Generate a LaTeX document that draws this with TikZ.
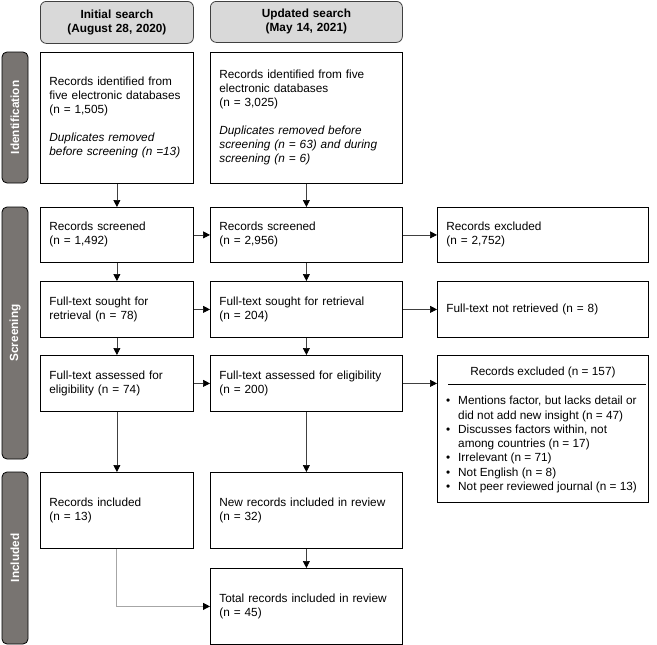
\documentclass[tikz,border=0pt]{standalone}
\usepackage{fontspec}
\setmainfont{Liberation Sans}
\usetikzlibrary{arrows.meta, calc, positioning}
\definecolor{headgray}{HTML}{D9D9D9}
\definecolor{phasegray}{HTML}{787471}
\definecolor{linegray}{HTML}{404040}
\definecolor{elbowgray}{HTML}{A6A6A6}

\begin{document}
\begin{tikzpicture}[x=1pt, y=-1pt,
        box/.style={draw=black, line width=0.8pt, anchor=north west, align=left,
            inner xsep=9pt, inner ysep=0pt, font=\fontsize{11.8}{14}\selectfont},
        colone/.style={text width=135pt},
        coltwo/.style={text width=174pt},
        colthree/.style={text width=193pt},
        header/.style={draw=linegray, line width=0.8pt, fill=headgray, rounded corners=6pt,
            anchor=north west, align=center, inner xsep=0pt,
            font=\fontsize{11.8}{14}\selectfont\bfseries},
        phase/.style={draw=black, line width=0.8pt, fill=phasegray, rounded corners=5pt,
            rotate=90, minimum height=26pt, inner sep=0pt, text=white,
            font=\fontsize{11.8}{14}\selectfont\bfseries},
        arr/.style={draw=linegray, line width=0.7pt, -{Triangle[length=7pt, width=7pt, color=black]}},
        elbow/.style={draw=elbowgray, line width=1pt, -{Triangle[length=7pt, width=7pt, color=black]}}
    ]
    \useasboundingbox (0,0) rectangle (657,645);

    % Headers
    \node[header, text width=153pt, minimum height=42pt] (headone) at (40,1) {Initial search\\(August 28, 2020)};
    \node[header, text width=192pt, minimum height=41pt] (headtwo) at (210,1) {Updated search\\(May 14, 2021)};

    % Phase bars
    \node[phase, minimum width=131pt] (identbar) at (15,117.5) {Identification};
    \node[phase, minimum width=252pt] (screenbar) at (15,333) {Screening};
    \node[phase, minimum width=172pt] (inclbar) at (15,558) {Included};

    % Identification
    \node[box, colone, minimum height=131pt] (idone) at (40,52)
        {Records identified from\\five electronic databases\\(n = 1,505)\\[14pt]
         \itshape Duplicates removed\\before screening (n =13)};
    \node[box, coltwo, minimum height=131pt] (idtwo) at (210,52)
        {Records identified from five\\electronic databases\\(n = 3,025)\\[14pt]
         \itshape Duplicates removed before\\screening (n = 63) and during\\screening (n = 6)};

    % Screening
    \node[box, colone, minimum height=55pt] (scrone) at (40,207) {Records screened\\(n = 1,492)};
    \node[box, coltwo, minimum height=55pt] (scrtwo) at (210,207) {Records screened\\(n = 2,956)};
    \node[box, colthree, minimum height=55pt] (exclone) at (437,207) {Records excluded\\(n = 2,752)};

    \node[box, colone, minimum height=56pt] (soughtone) at (40,281) {Full-text sought for\\retrieval (n = 78)};
    \node[box, coltwo, minimum height=56pt] (soughttwo) at (210,281) {Full-text sought for retrieval\\(n = 204)};
    \node[box, colthree, minimum height=56pt] (notret) at (437,281) {Full-text not retrieved (n = 8)};

    \node[box, colone, minimum height=56pt] (assessone) at (40,355) {Full-text assessed for\\eligibility (n = 74)};
    \node[box, coltwo, minimum height=56pt] (assesstwo) at (210,355) {Full-text assessed for eligibility\\(n = 200)};
    \node[box, colthree, minimum height=147pt] (excltwo) at (437,355) {};
    \node[font=\fontsize{11.8}{14}\selectfont, inner sep=0pt] (excltwotitle)
        at ($(excltwo.north)+(0,17)$) {Records excluded (n = 157)};
    \draw[line width=0.8pt] ($(excltwo.north west)+(11,29)$) -- ($(excltwo.north east)+(-3,29)$);
    \node[anchor=north west, align=left, inner sep=0pt, font=\fontsize{11.8}{14.3}\selectfont] (excltwolist)
        at ($(excltwo.north west)+(9,41)$)
        {\makebox[12pt][l]{\textbullet}Mentions factor, but lacks detail or\\
         \hspace*{12pt}did not add new insight (n = 47)\\
         \makebox[12pt][l]{\textbullet}Discusses factors within, not\\
         \hspace*{12pt}among countries (n = 17)\\
         \makebox[12pt][l]{\textbullet}Irrelevant (n = 71)\\
         \makebox[12pt][l]{\textbullet}Not English (n = 8)\\
         \makebox[12pt][l]{\textbullet}Not peer reviewed journal (n = 13)};

    % Included
    \node[box, colone, minimum height=76pt] (inclone) at (40,472) {Records included\\(n = 13)};
    \node[box, coltwo, minimum height=76pt] (incltwo) at (210,472) {New records included in review\\(n = 32)};
    \node[box, coltwo, minimum height=76pt] (total) at (210,568) {Total records included in review\\(n = 45)};

    % Vertical arrows
    \draw[arr] (idone) -- (scrone);
    \draw[arr] (scrone) -- (soughtone);
    \draw[arr] (soughtone) -- (assessone);
    \draw[arr] (assessone) -- (inclone);
    \draw[arr] (idtwo) -- (scrtwo);
    \draw[arr] (scrtwo) -- (soughttwo);
    \draw[arr] (soughttwo) -- (assesstwo);
    \draw[arr] (assesstwo) -- (incltwo);
    \draw[arr] (incltwo) -- (total);

    % Horizontal arrows
    \draw[arr] (scrone) -- (scrtwo);
    \draw[arr] (soughtone) -- (soughttwo);
    \draw[arr] (assessone) -- (assesstwo);
    \draw[arr] (scrtwo) -- (exclone);
    \draw[arr] (soughttwo) -- (notret);
    \draw[arr] (assesstwo.east) -- (assesstwo.east -| excltwo.west);
    \draw[elbow] (inclone.south) |- (total.west);
\end{tikzpicture}
\end{document}
